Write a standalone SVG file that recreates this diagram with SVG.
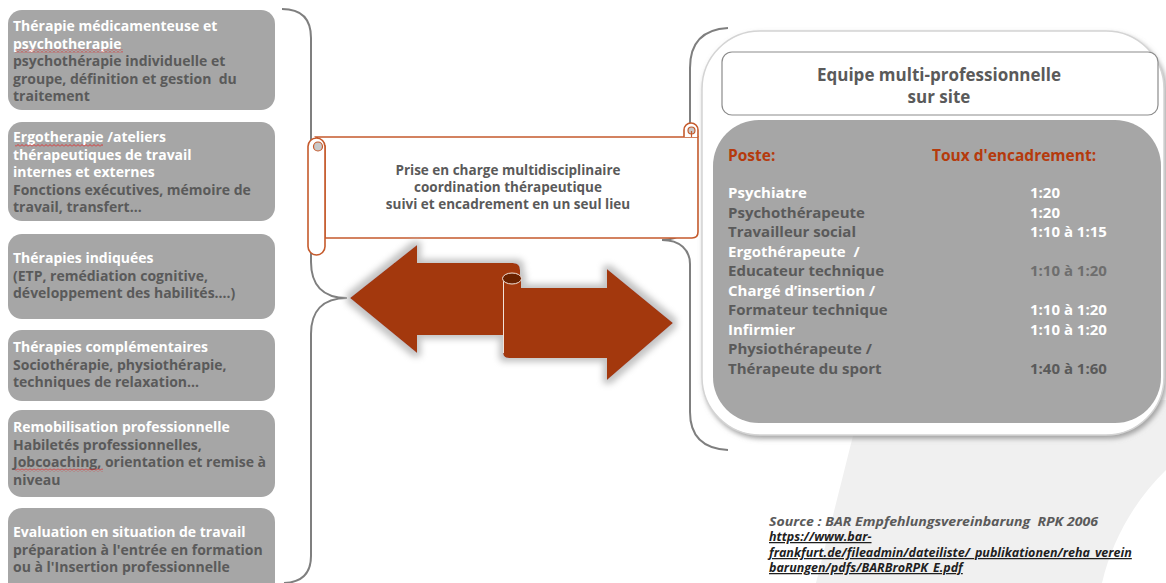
<svg xmlns="http://www.w3.org/2000/svg" width="1166" height="583" viewBox="0 0 1166 583">
<style>
  text { font-family: "Open Sans", "DejaVu Sans", sans-serif; font-weight: 700; white-space: pre; }
  .box { fill: #a6a6a6; }
  .bt { font-size: 14px; }
  .w { fill: #ffffff; }
  .d { fill: #5a5a5a; }
  .v { fill: #6e6e6e; }
  .br { fill: none; stroke: #7f7f7f; stroke-width: 2; }
  .scroll { fill: #ffffff; stroke: #c55a2c; stroke-width: 1.6; }
  .arrow { fill: #a3390b; }
  .row { font-size: 15px; }
  .hd { font-size: 15.5px; fill: #b53a0c; }
  .src { font-size: 12.5px; font-style: italic; }
  .lnk { fill: #1f1f1f; text-decoration: underline; }
</style>
<defs>
  <pattern id="squig" width="4" height="3" patternUnits="userSpaceOnUse">
    <path d="M0,2.5 L2,0.5 L4,2.5" fill="none" stroke="#e02828" stroke-width="0.9"/>
  </pattern>
  <filter id="glow" x="-20%" y="-20%" width="140%" height="140%">
    <feMorphology in="SourceAlpha" operator="dilate" radius="4" result="d"/>
    <feGaussianBlur in="d" stdDeviation="3" result="b"/>
    <feFlood flood-color="#c4c4c4"/>
    <feComposite in2="b" operator="in" result="s"/>
    <feMerge><feMergeNode in="s"/><feMergeNode in="SourceGraphic"/></feMerge>
  </filter>
  <filter id="pshadow" x="-5%" y="-5%" width="110%" height="115%">
    <feDropShadow dx="2" dy="3" stdDeviation="2.5" flood-color="#8f8f8f" flood-opacity="0.8"/>
  </filter>
</defs>

<rect width="1166" height="583" fill="#ffffff"/>
<path d="M862,400 L1166,400 L1166,470 C1135,500 1112,540 1102,583 L816,583 Z" fill="#f0f0f0"/>

<g id="n1">
  <rect class="box" x="8" y="10" width="267" height="100" rx="14"/>
  <text class="bt w" x="13" y="31">Thérapie médicamenteuse et</text>
  <text class="bt w" x="13" y="48.5">psychotherapie</text>
  <rect x="15" y="49.5" width="108" height="3" fill="url(#squig)"/>
  <text class="bt d" x="13" y="66">psychothérapie individuelle et</text>
  <text class="bt d" x="13" y="83.5">groupe, définition et gestion  du</text>
  <text class="bt d" x="13" y="101">traitement</text>
</g>
<g id="n2">
  <rect class="box" x="8" y="122" width="267" height="99" rx="14"/>
  <text class="bt w" x="13" y="142">Ergotherapie /ateliers</text>
  <rect x="15" y="144" width="88" height="3" fill="url(#squig)"/>
  <text class="bt w" x="13" y="159.5">thérapeutiques de travail</text>
  <text class="bt w" x="13" y="177">internes et externes</text>
  <text class="bt d" x="13" y="194.5">Fonctions exécutives, mémoire de</text>
  <text class="bt d" x="13" y="212">travail, transfert…</text>
</g>
<g id="n3">
  <rect class="box" x="8" y="234" width="267" height="85" rx="14"/>
  <text class="bt w" x="13" y="263">Thérapies indiquées</text>
  <text class="bt d" x="13" y="280.5">(ETP, remédiation cognitive,</text>
  <text class="bt d" x="13" y="298">développement des habilités….)</text>
</g>
<g id="n4">
  <rect class="box" x="8" y="330" width="267" height="71" rx="14"/>
  <text class="bt w" x="13" y="352">Thérapies complémentaires</text>
  <text class="bt d" x="13" y="369.5">Sociothérapie, physiothérapie,</text>
  <text class="bt d" x="13" y="387">techniques de relaxation…</text>
</g>
<g id="n5">
  <rect class="box" x="8" y="410" width="267" height="87" rx="14"/>
  <text class="bt w" x="13" y="432">Remobilisation professionnelle</text>
  <text class="bt d" x="13" y="449.5">Habiletés professionnelles,</text>
  <text class="bt d" x="13" y="467">Jobcoaching, orientation et remise à</text>
  <rect x="15" y="468.5" width="88" height="3" fill="url(#squig)"/>
  <text class="bt d" x="13" y="484.5">niveau</text>
</g>
<g id="n6">
  <rect class="box" x="8" y="508" width="267" height="90" rx="14"/>
  <text class="bt w" x="13" y="537">Evaluation en situation de travail</text>
  <text class="bt d" x="13" y="554.5">préparation à l'entrée en formation</text>
  <text class="bt d" x="13" y="572">ou à l'Insertion professionnelle</text>
</g>

<g id="connectors">
  <path class="br" d="M282,9 Q311,9 311,38 V262 C311,284 322,298 347,298 C322,298 311,312 311,334 V556 Q311,582 284,583"/>
  <path class="br" d="M728,28 Q690,30 690,68 V216 C690,230 680,240 662,240 C680,240 690,250 690,264 V412 Q690,448 728,450"/>
</g>

<g id="banner">
  <path class="scroll" d="M316,137 H698 V232 Q698,238 692,238 H325 V146 Z"/>
  <path class="scroll" d="M684,137 V130 A7,7 0 0 1 698,130 V137"/>
  <circle cx="691.5" cy="130.5" r="3.5" fill="#c9c9c9" stroke="#c55a2c" stroke-width="1.2"/>
  <line x1="691.5" y1="131" x2="691.5" y2="137" stroke="#c55a2c" stroke-width="1.2"/>
  <rect class="scroll" x="308" y="138" width="17" height="117" rx="8.5"/>
  <circle cx="318" cy="146.5" r="4.5" fill="#c9c9c9" stroke="#c55a2c" stroke-width="1.2"/>
  <text x="508" y="175" text-anchor="middle" font-size="13.5" fill="#5a5a5a">Prise en charge multidisciplinaire</text>
  <text x="508" y="192" text-anchor="middle" font-size="13.5" fill="#5a5a5a">coordination thérapeutique</text>
  <text x="508" y="209" text-anchor="middle" font-size="13.5" fill="#5a5a5a">suivi et encadrement en un seul lieu</text>
</g>

<g id="arrows" filter="url(#glow)">
  <path class="arrow" d="M350,298 L417,245 L417,263 L513,263 Q520,263 520,270 L520,335 L417,335 L417,353 Z"/>
  <path class="arrow" d="M503,279 L503,352 Q503,358 509,358 L607,358 L607,380 L673,323 L607,269 L607,288 L521,288 L521,279 Z"/>
  <line x1="503.5" y1="280" x2="503.5" y2="353" stroke="#f3e2d8" stroke-width="1"/>
  <ellipse cx="512" cy="278.5" rx="9.5" ry="5.5" fill="#6b2306" stroke="#f3e2d8" stroke-width="1"/>
</g>

<g id="panel">
  <rect x="702" y="31" width="462" height="404" rx="58" fill="#ffffff" stroke="#d4d4d4" stroke-width="1.5" filter="url(#pshadow)"/>
  <rect x="722" y="52" width="436" height="63" rx="10" fill="#ffffff" stroke="#8c8c8c" stroke-width="1.2"/>
  <text x="939" y="81" text-anchor="middle" font-size="17" font-weight="600" fill="#5a5a5a">Equipe multi-professionnelle</text>
  <text x="939" y="103" text-anchor="middle" font-size="17" font-weight="600" fill="#5a5a5a">sur site</text>
  <rect x="713" y="120" width="448" height="303" rx="46" fill="#a6a6a6"/>
  <text class="hd" x="728" y="161">Poste:</text>
  <text class="hd" x="932" y="161">Toux d'encadrement:</text>
  <text class="row w" x="728" y="198">Psychiatre</text>
  <text class="row d" x="728" y="217.5">Psychothérapeute</text>
  <text class="row d" x="728" y="237">Travailleur social</text>
  <text class="row w" x="728" y="256.5">Ergothérapeute  /</text>
  <text class="row d" x="728" y="276">Educateur technique</text>
  <text class="row w" x="728" y="295.5">Chargé d’insertion /</text>
  <text class="row d" x="728" y="315">Formateur technique</text>
  <text class="row w" x="728" y="334.5">Infirmier</text>
  <text class="row d" x="728" y="354">Physiothérapeute /</text>
  <text class="row d" x="728" y="373.5">Thérapeute du sport</text>
  <text class="row w" x="1030" y="198">1:20</text>
  <text class="row w" x="1030" y="217.5">1:20</text>
  <text class="row w" x="1030" y="237">1:10 à 1:15</text>
  <text class="row v" x="1030" y="276">1:10 à 1:20</text>
  <text class="row w" x="1030" y="315">1:10 à 1:20</text>
  <text class="row w" x="1030" y="334.5">1:10 à 1:20</text>
  <text class="row d" x="1030" y="373.5">1:40 à 1:60</text>
</g>

<g id="source">
  <text class="src" x="769" y="526" fill="#5a5a5a" textLength="329" lengthAdjust="spacingAndGlyphs">Source : BAR Empfehlungsvereinbarung  RPK 2006</text>
  <text class="src lnk" x="769" y="541">https://www.bar-</text>
  <text class="src lnk" x="769" y="557">frankfurt.de/fileadmin/dateiliste/_publikationen/reha_verein</text>
  <text class="src lnk" x="769" y="572">barungen/pdfs/BARBroRPK_E.pdf</text>
</g>
</svg>
